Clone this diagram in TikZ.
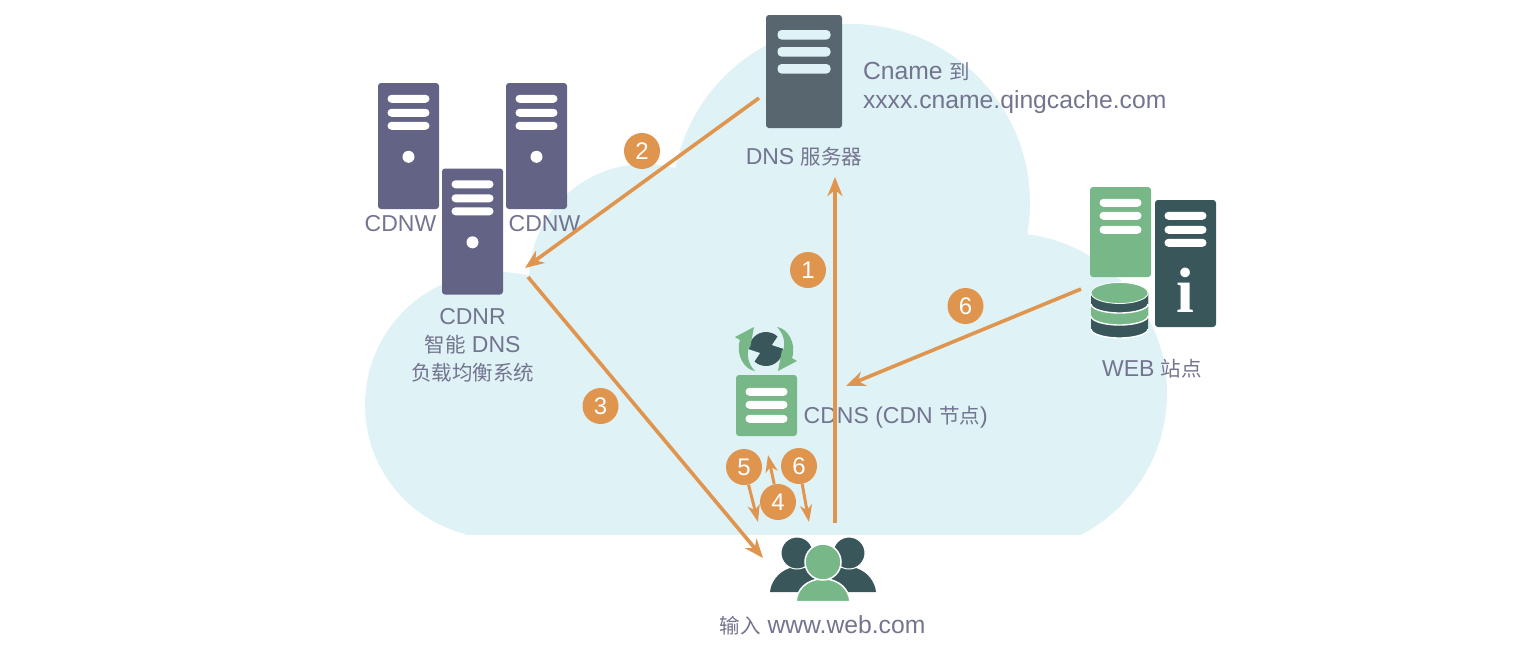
\documentclass[tikz,border=0pt]{standalone}
\usepackage{xcolor}
\usepackage{fontspec}
\usetikzlibrary{arrows.meta}
\setmainfont{Liberation Sans}
\newfontfamily\cjk{Noto Sans CJK SC}
\newfontfamily\infofont{Liberation Serif}
\newcommand{\zh}[1]{{\cjk\fontsize{20.5}{28}\selectfont #1}}
\definecolor{cloudblue}{HTML}{DFF2F6}
\definecolor{slatepurple}{HTML}{636485}
\definecolor{darkteal}{HTML}{39575B}
\definecolor{leafgreen}{HTML}{78B888}
\definecolor{dnsgrey}{HTML}{58666F}
\definecolor{badgeorange}{HTML}{E0954F}
\definecolor{labelgrey}{HTML}{73748F}
\newcommand{\bars}[2]{
  \foreach \dy in {#2}
    \node (#1 bar \dy)[bar] at ([yshift=-\dy pt]#1.north) {};
}
\newcommand{\disc}[2]{
  \fill[#1] (1091,293) -- (1091,#2) arc[start angle=180, end angle=360, x radius=28.5pt, y radius=9pt] -- (1148,293) -- cycle;
  \draw[white, line width=1.4pt] (1091,#2) arc[start angle=180, end angle=360, x radius=28.5pt, y radius=9pt];
}
\begin{document}
\begin{tikzpicture}[x=1pt, y=-1pt]
          \tikzstyle{every node}=[font=\fontsize{23}{28}\selectfont, text=labelgrey]
          \tikzstyle{server}=[rectangle, rounded corners=3pt, inner sep=0pt, minimum width=61pt, minimum height=126pt]
          \tikzstyle{bar}=[rectangle, rounded corners=4pt, fill=white, inner sep=0pt, minimum width=42pt, minimum height=8pt]
          \tikzstyle{dot}=[circle, fill=white, inner sep=0pt, minimum size=12pt]
          \tikzstyle{badge}=[circle, fill=badgeorange, text=white, font=\fontsize{24}{28}\selectfont, inner sep=0pt, minimum size=36pt]
          \tikzstyle{flow}=[draw=badgeorange, line width=3.6pt, -{Stealth[length=19pt, width=15pt, inset=6pt]}]
          \tikzstyle{minorflow}=[draw=badgeorange, line width=3pt, -{Stealth[length=17pt, width=12pt, inset=5pt]}]
          \tikzstyle{wide}=[font=\fontsize{24.7}{29}\selectfont]
          \useasboundingbox (0,0) rectangle (1540,646);

          \begin{scope}
            \clip (300,0) rectangle (1200,534);
            \fill[cloudblue] (851,203) circle[radius=179pt];
            \fill[cloudblue] (645,280) circle[radius=116pt];
            \fill[cloudblue] (498,405) circle[radius=133pt];
            \fill[cloudblue] (1007,393) circle[radius=160pt];
            \fill[cloudblue] (465,300) rectangle (1080,540);
          \end{scope}

          \node (CdnwLeft)[server, fill=slatepurple, label={[xshift=-8pt, yshift=-3pt]below:CDNW}] at (408.5,146) {};
          \node (CdnwRight)[server, fill=slatepurple, label={[xshift=8pt, yshift=-3pt]below:CDNW}] at (536.5,146) {};
          \node (Cdnr)[server, fill=slatepurple, label={[align=center, yshift=-10pt]below:CDNR\\\zh{智能} DNS\\\zh{负载均衡系统}}] at (472.5,231.5) {};
          \bars{CdnwLeft}{16,30,43}
          \bars{CdnwRight}{16,30,43}
          \bars{Cdnr}{16,30,43}
          \node (CdnwLeft dot)[dot] at ([yshift=-74pt]CdnwLeft.north) {};
          \node (CdnwRight dot)[dot] at ([yshift=-74pt]CdnwRight.north) {};
          \node (Cdnr dot)[dot] at ([yshift=-74pt]Cdnr.north) {};

          \node (Dns)[server, fill=dnsgrey, minimum width=76pt, minimum height=113pt, label={[yshift=-16pt]below:DNS \zh{服务器}}] at (804,71.5) {};
          \foreach \dy in {20,37,54}
            \node (Dns bar \dy)[bar, fill=cloudblue, minimum width=53pt, minimum height=9.5pt] at ([yshift=-\dy pt]Dns.north) {};
          \node (Cname)[wide, anchor=west, align=left] at (859.5,88) {Cname \zh{到}\\xxxx.cname.qingcache.com};

          \node (Web)[server, fill=leafgreen, minimum height=90pt] at (1120.5,232) {};
          \bars{Web}{16,29,43}
          \node (Info)[server, fill=darkteal, minimum height=127pt] at (1185.5,263.5) {};
          \bars{Info}{16,30,43}
          \node (InfoMark)[text=white, font=\infofont\bfseries\fontsize{64}{64}\selectfont] at (1185,290) {i};
          \disc{darkteal}{329}
          \disc{leafgreen}{316}
          \disc{darkteal}{304}
          \fill[leafgreen, draw=white, line width=0.8pt] (1119.5,293) ellipse[x radius=28.5pt, y radius=10.5pt];
          \node (WebLabel) at (1152,369) {WEB \zh{站点}};

          \fill[darkteal] (766,349) circle[radius=17pt];
          \fill[cloudblue] (748,349) -- (760,353) -- (752,365) -- (746,365) -- cycle;
          \fill[cloudblue] (784,349) -- (772,345) -- (780,333) -- (786,333) -- cycle;
          \fill[leafgreen] (735,337) -- (754,327) -- (750,348) -- (749,347) .. controls (746,356) and (749,365) .. (755,371) .. controls (745,370) and (735,355) .. (740,340) -- cycle;
          \fill[leafgreen] (797,361) -- (778,371) -- (782,350) -- (783,351) .. controls (786,342) and (783,333) .. (777,327) .. controls (787,328) and (797,343) .. (792,358) -- cycle;
          \node (Cdns)[server, fill=leafgreen, minimum height=61pt, label={[anchor=west, xshift=3pt, yshift=-12pt]right:CDNS (CDN \zh{节点})}] at (766.5,405.5) {};
          \bars{Cdns}{17,30,44}

          \fill[darkteal] (770,592) .. controls (771,582) and (778,572) .. (790,568) -- (815,568) -- (815,592) -- cycle;
          \fill[darkteal] (876,592) .. controls (875,582) and (868,572) .. (856,568) -- (831,568) -- (831,592) -- cycle;
          \fill[darkteal, draw=white, line width=1pt] (797,553) circle[radius=16pt];
          \fill[darkteal, draw=white, line width=1pt] (849,553) circle[radius=16pt];
          \fill[leafgreen, draw=white, line width=1.5pt] (796,601.5) .. controls (797,590) and (806,579) .. (823,579) .. controls (840,579) and (849,590) .. (850,601.5) -- cycle;
          \fill[leafgreen, draw=white, line width=1.5pt] (823,562) circle[radius=18pt];
          \node (User)[wide] at (822.5,625) {\zh{输入} www.web.com};

          \coordinate (DnsOut) at (759,98);
          \coordinate (CdnrIn) at (525,268);
          \coordinate (CdnrOut) at (528,277);
          \coordinate (UserIn) at (763,558);
          \coordinate (UserOut) at (835,523);
          \coordinate (DnsIn) at (835,177);
          \coordinate (WebOut) at (1081,289);
          \coordinate (CdnsIn) at (846,386);
          \draw[flow] (DnsOut) -- (CdnrIn);
          \draw[flow] (CdnrOut) -- (UserIn);
          \draw[flow] (UserOut) -- (DnsIn);
          \draw[flow] (WebOut) -- (CdnsIn);

          \node (One)[badge] at (808,270) {1};
          \node (Two)[badge] at (642,151) {2};
          \node (Three)[badge] at (600.5,406) {3};
          \node (SixTop)[badge] at (965.5,306) {6};
          \node (Five)[badge] at (744,467) {5};
          \node (Four)[badge] at (778,502) {4};
          \node (SixLow)[badge] at (799,466) {6};
          \coordinate (FiveEnd) at (758,522);
          \coordinate (FourEnd) at (768,455);
          \coordinate (SixEnd) at (809,522);
          \draw[minorflow] (Five) -- (FiveEnd);
          \draw[minorflow] (Four) -- (FourEnd);
          \draw[minorflow] (SixLow) -- (SixEnd);
        \end{tikzpicture}
\end{document}
